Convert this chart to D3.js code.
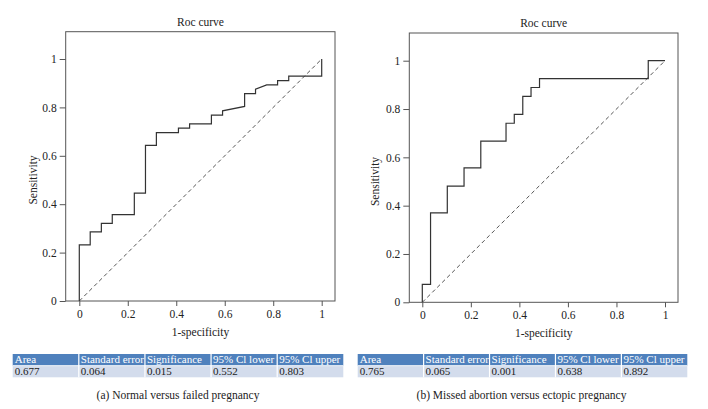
<!DOCTYPE html>
<html>
<head>
<meta charset="utf-8">
<script src="https://cdn.jsdelivr.net/npm/d3@7"></script>
<style>
  html, body { margin: 0; padding: 0; background: #fff; }
  svg text { font-family: "Liberation Serif", "Times New Roman", serif; }
</style>
</head>
<body>
<svg id="chart" width="708" height="409"></svg>
<script>
// ---------- data ----------
const xTicks = [0, 0.2, 0.4, 0.6, 0.8, 1];
const yTicks = [0, 0.2, 0.4, 0.6, 0.8, 1];
const chartTitle = "Roc curve";
const xLabel = "1-specificity";
const yLabel = "Sensitivity";

// Panel (a): Normal versus failed pregnancy — ROC vertices
const fprA  = [0, 0,     0.045, 0.045, 0.091, 0.091, 0.136, 0.136, 0.227, 0.227, 0.273, 0.273, 0.318, 0.318, 0.409, 0.409, 0.455, 0.455, 0.545, 0.545, 0.591, 0.591, 0.682, 0.682, 0.727, 0.727, 0.773, 0.818, 0.818, 0.864, 0.864, 1,     1];
const sensA = [0, 0.232, 0.232, 0.286, 0.286, 0.321, 0.321, 0.357, 0.357, 0.446, 0.446, 0.643, 0.643, 0.696, 0.696, 0.714, 0.714, 0.732, 0.732, 0.768, 0.768, 0.786, 0.804, 0.857, 0.857, 0.875, 0.893, 0.893, 0.911, 0.911, 0.929, 0.929, 1];

// Panel (b): Missed abortion versus ectopic pregnancy — ROC vertices
const fprB  = [0, 0,     0.034, 0.034, 0.103, 0.103, 0.172, 0.172, 0.241, 0.241, 0.345, 0.345, 0.379, 0.379, 0.414, 0.414, 0.448, 0.448, 0.483, 0.483, 0.931, 0.931, 1];
const sensB = [0, 0.074, 0.074, 0.370, 0.370, 0.481, 0.481, 0.556, 0.556, 0.667, 0.667, 0.741, 0.741, 0.778, 0.778, 0.852, 0.852, 0.889, 0.889, 0.926, 0.926, 1,     1];

const tableHeaders = ["Area", "Standard error", "Significance", "95% Cl lower", "95% Cl upper"];
const tableValuesA = ["0.677", "0.064", "0.015", "0.552", "0.803"];
const tableValuesB = ["0.765", "0.065", "0.001", "0.638", "0.892"];
const captionA = "(a)  Normal versus failed pregnancy";
const captionB = "(b)  Missed abortion versus ectopic pregnancy";

// ---------- drawing ----------
const svg = d3.select("#chart");
const lineColor = "#333";
const textColor = "#222";

function drawPanel(cfg) {
  const x = d3.scaleLinear().domain([0, 1]).range([cfg.x0, cfg.x1]);
  const y = d3.scaleLinear().domain([0, 1]).range([cfg.y0, cfg.y1]);
  const g = svg.append("g");

  // box
  g.append("rect")
    .attr("x", cfg.boxL).attr("y", cfg.boxT)
    .attr("width", cfg.boxR - cfg.boxL).attr("height", cfg.boxB - cfg.boxT)
    .attr("fill", "none").attr("stroke", "#555").attr("stroke-width", 1);

  // axes
  const ax = g.append("g")
    .attr("transform", `translate(0,${cfg.boxB})`)
    .call(d3.axisBottom(x).tickValues(xTicks).tickFormat(d3.format("~g")).tickSize(5).tickPadding(4));
  const ay = g.append("g")
    .attr("transform", `translate(${cfg.boxL},0)`)
    .call(d3.axisLeft(y).tickValues(yTicks).tickFormat(d3.format("~g")).tickSize(6).tickPadding(3));
  [ax, ay].forEach(a => {
    a.select(".domain").remove();
    a.selectAll(".tick line").attr("stroke", "#555");
    a.selectAll(".tick text").attr("fill", textColor)
      .style("font-size", "11.5px").style("font-family", "Liberation Serif, serif");
  });

  // diagonal reference
  g.append("line")
    .attr("x1", x(0)).attr("y1", y(0)).attr("x2", x(1)).attr("y2", y(1))
    .attr("stroke", "#555").attr("stroke-width", 1).attr("stroke-dasharray", "4,3");

  // ROC curve
  const pts = cfg.fpr.map((f, i) => [f, cfg.sens[i]]);
  g.append("path")
    .datum(pts)
    .attr("d", d3.line().x(d => x(d[0])).y(d => y(d[1])))
    .attr("fill", "none").attr("stroke", lineColor).attr("stroke-width", 1.2);

  // titles
  g.append("text").attr("x", x(0.5)).attr("y", cfg.boxT - 6)
    .attr("text-anchor", "middle").attr("fill", textColor).style("font-size", "11.5px")
    .text(chartTitle);
  g.append("text").attr("x", x(0.5)).attr("y", cfg.boxB + 35)
    .attr("text-anchor", "middle").attr("fill", textColor).style("font-size", "11.5px")
    .text(xLabel);
  g.append("text")
    .attr("transform", `translate(${cfg.ylabX},${y(0.5)}) rotate(-90)`)
    .attr("text-anchor", "middle").attr("dominant-baseline", "central")
    .attr("fill", textColor).style("font-size", "11.5px")
    .text(yLabel);

  // table
  const tb = d3.scaleBand().domain(d3.range(tableHeaders.length)).range([cfg.tL, cfg.tR]);
  const tg = g.append("g");
  const rowT = 354, rowM = 365.7, rowB = 377.3;
  tableHeaders.forEach((h, i) => {
    const clipId = `clip-${cfg.id}-${i}`;
    tg.append("clipPath").attr("id", clipId)
      .append("rect").attr("x", tb(i)).attr("y", rowT).attr("width", tb.bandwidth()).attr("height", rowB - rowT);
    tg.append("rect").attr("x", tb(i)).attr("y", rowT).attr("width", tb.bandwidth()).attr("height", rowM - rowT)
      .attr("fill", "#4f81bd");
    tg.append("rect").attr("x", tb(i)).attr("y", rowM).attr("width", tb.bandwidth()).attr("height", rowB - rowM)
      .attr("fill", "#d3dcec");
    tg.append("text").attr("x", tb(i) + 2).attr("y", rowM - 2.5)
      .attr("clip-path", `url(#${clipId})`)
      .attr("fill", "#fff").style("font-size", "11px").text(h);
    tg.append("text").attr("x", tb(i) + 2).attr("y", rowB - 2.5)
      .attr("clip-path", `url(#${clipId})`)
      .attr("fill", textColor).style("font-size", "11px").text(cfg.values[i]);
  });
  // white separators
  d3.range(1, tableHeaders.length).forEach(i => {
    tg.append("line").attr("x1", tb(i)).attr("x2", tb(i)).attr("y1", rowT).attr("y2", rowB)
      .attr("stroke", "#fff").attr("stroke-width", 1.2);
  });
  tg.append("line").attr("x1", cfg.tL).attr("x2", cfg.tR).attr("y1", rowM).attr("y2", rowM)
    .attr("stroke", "#fff").attr("stroke-width", 0.8);

  // caption
  g.append("text").attr("x", (cfg.tL + cfg.tR) / 2 + cfg.capDx).attr("y", 399)
    .attr("text-anchor", "middle").attr("fill", textColor).style("font-size", "11.5px")
    .text(cfg.caption);
}

drawPanel({
  id: "a", fpr: fprA, sens: sensA, values: tableValuesA, caption: captionA,
  x0: 79.3, x1: 321.7, y0: 301, y1: 59,
  boxL: 65.7, boxR: 335, boxT: 31.7, boxB: 301,
  ylabX: 33, tL: 12.7, tR: 343.3, capDx: 0
});
drawPanel({
  id: "b", fpr: fprB, sens: sensB, values: tableValuesB, caption: captionB,
  x0: 422.3, x1: 665, y0: 302.3, y1: 60.7,
  boxL: 409.3, boxR: 678, boxT: 33, boxB: 302.3,
  ylabX: 375, tL: 357.7, tR: 687.3, capDx: -1
});
</script>
</body>
</html>
